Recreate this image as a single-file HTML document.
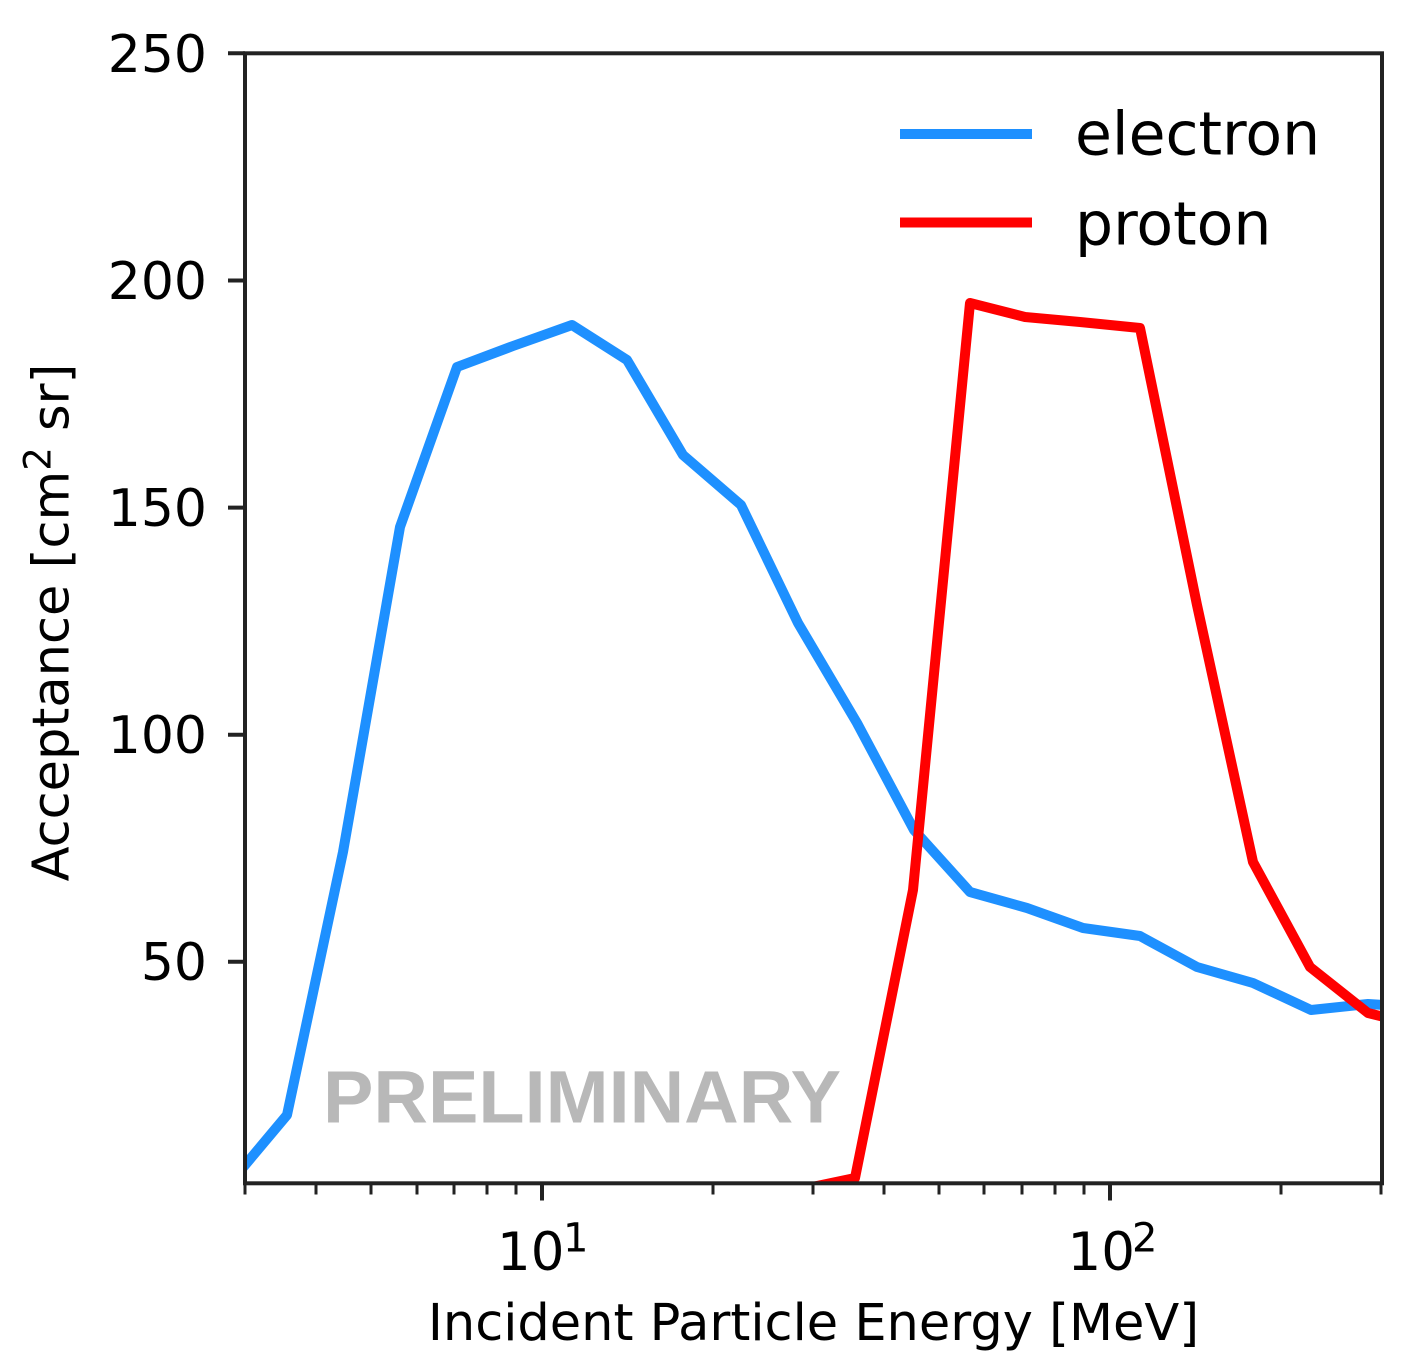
<!DOCTYPE html>
<html>
<head>
<meta charset="utf-8">
<style>
  html, body { margin: 0; padding: 0; background: #ffffff; }
  svg { display: block; }
  text { font-family: "DejaVu Sans", "Liberation Sans", sans-serif; fill: #000; }
</style>
</head>
<body>
<svg xmlns="http://www.w3.org/2000/svg" width="1418" height="1366" viewBox="0 0 1418 1366">
  <rect x="0" y="0" width="1418" height="1366" fill="#ffffff"/>
  <defs>
    <clipPath id="ax">
      <rect x="245" y="53.3" width="1137" height="1130"/>
    </clipPath>
  </defs>

  <!-- PRELIMINARY watermark -->
  <text x="323" y="1122.7" font-family="Liberation Sans, Arial, sans-serif" font-weight="bold" font-size="74" textLength="518" lengthAdjust="spacingAndGlyphs" style="fill:#b8b8b8;font-family:'Liberation Sans',Arial,sans-serif;">PRELIMINARY</text>

  <!-- data series -->
  <g clip-path="url(#ax)" fill="none" stroke-width="10" stroke-linejoin="round" stroke-linecap="square">
    <polyline stroke="#1e90ff" points="230,1183 287,1115 343,852 400,527 457,367 513,346 572,325 627,360 683,455 741,505 798,623 857,723 914,830 970,892 1027,908 1083,928 1140,936 1197,967 1253,983 1311,1010 1368,1004 1400,1006"/>
    <polyline stroke="#ff0000" points="741,1194 798,1190 855,1178 913,890 970,303 1025,317 1080,322 1140,328 1197,605 1253,862 1310,967 1368,1013 1400,1021"/>
  </g>

  <!-- spines -->
  <rect x="245" y="53.3" width="1137" height="1130" fill="none" stroke="#222" stroke-width="4"/>

  <!-- y ticks -->
  <g stroke="#222" stroke-width="4">
    <line x1="228" y1="53.3" x2="245" y2="53.3"/>
    <line x1="228" y1="280.5" x2="245" y2="280.5"/>
    <line x1="228" y1="507.6" x2="245" y2="507.6"/>
    <line x1="228" y1="734.7" x2="245" y2="734.7"/>
    <line x1="228" y1="961.7" x2="245" y2="961.7"/>
  </g>
  <g font-size="52" text-anchor="end">
    <text x="207" y="71.8">250</text>
    <text x="207" y="299">200</text>
    <text x="207" y="526.1">150</text>
    <text x="207" y="753.2">100</text>
    <text x="207" y="980.2">50</text>
  </g>

  <!-- x major ticks -->
  <g stroke="#222" stroke-width="4">
    <line x1="542" y1="1183.3" x2="542" y2="1200.5"/>
    <line x1="1110" y1="1183.3" x2="1110" y2="1200.5"/>
  </g>
  <!-- x minor ticks -->
  <g stroke="#222" stroke-width="3">
    <line x1="245" y1="1183.3" x2="245" y2="1194.5"/>
    <line x1="316" y1="1183.3" x2="316" y2="1194.5"/>
    <line x1="371" y1="1183.3" x2="371" y2="1194.5"/>
    <line x1="417" y1="1183.3" x2="417" y2="1194.5"/>
    <line x1="454" y1="1183.3" x2="454" y2="1194.5"/>
    <line x1="487" y1="1183.3" x2="487" y2="1194.5"/>
    <line x1="516" y1="1183.3" x2="516" y2="1194.5"/>
    <line x1="713" y1="1183.3" x2="713" y2="1194.5"/>
    <line x1="813" y1="1183.3" x2="813" y2="1194.5"/>
    <line x1="884" y1="1183.3" x2="884" y2="1194.5"/>
    <line x1="939" y1="1183.3" x2="939" y2="1194.5"/>
    <line x1="984" y1="1183.3" x2="984" y2="1194.5"/>
    <line x1="1022" y1="1183.3" x2="1022" y2="1194.5"/>
    <line x1="1055" y1="1183.3" x2="1055" y2="1194.5"/>
    <line x1="1084" y1="1183.3" x2="1084" y2="1194.5"/>
    <line x1="1281" y1="1183.3" x2="1281" y2="1194.5"/>
    <line x1="1381" y1="1183.3" x2="1381" y2="1194.5"/>
  </g>

  <!-- x tick labels -->
  <text x="497" y="1270" font-size="53">10</text>
  <text x="563" y="1251.5" font-size="40">1</text>
  <text x="1067.5" y="1270" font-size="53">10</text>
  <text x="1132" y="1251.5" font-size="40">2</text>

  <!-- x axis label -->
  <text x="813.5" y="1340" font-size="51" text-anchor="middle">Incident Particle Energy [MeV]</text>

  <!-- y axis label -->
  <g transform="translate(68.5,622.5) rotate(-90)">
    <text x="0" y="0" font-size="51" text-anchor="middle">Acceptance [cm<tspan font-size="37" dy="-18">2</tspan><tspan dy="18"> sr]</tspan></text>
  </g>

  <!-- legend -->
  <line x1="900" y1="134" x2="1032" y2="134" stroke="#1e90ff" stroke-width="10"/>
  <line x1="900" y1="222.5" x2="1032" y2="222.5" stroke="#ff0000" stroke-width="10"/>
  <text x="1075" y="154.5" font-size="60">electron</text>
  <text x="1075" y="244.5" font-size="60">proton</text>
</svg>
</body>
</html>
